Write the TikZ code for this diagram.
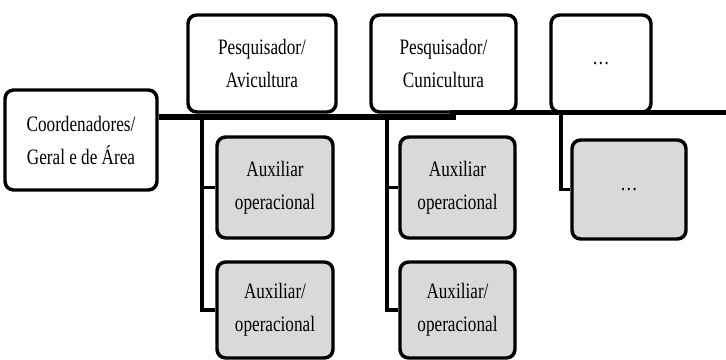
\documentclass[tikz,border=0pt]{standalone}
\usepackage{fontspec}
\setmainfont{Liberation Serif}[FakeStretch=0.78]
\definecolor{auxgray}{RGB}{217,217,217}

\begin{document}
\begin{tikzpicture}[x=0.75pt,y=0.75pt,yscale=-1,xscale=1,
		box/.style={draw,line width=2.6pt,rounded corners=6.5pt,fill=white,align=center,inner sep=0pt,font=\fontsize{16.5}{24.75}\selectfont},
		auxbox/.style={box,fill=auxgray},
		bus/.style={line width=4.4pt},
		link/.style={line width=2.4pt}]
		\useasboundingbox (0,0) rectangle (726,360);
		
		\node[box,minimum width=114pt,minimum height=75pt] (coord) at (81,140) {Coordenadores/\\Geral e de Área};
		\node[box,minimum width=111pt,minimum height=72.75pt] (avic) at (262,63.5) {Pesquisador/\\Avicultura};
		\node[box,minimum width=108.75pt,minimum height=72.75pt] (cunic) at (443.5,63.5) {Pesquisador/\\Cunicultura};
		\node[box,minimum width=75pt,minimum height=72.75pt] (dotsTop) at (601,63.5) {…};
		
		\node[auxbox,minimum width=87pt,minimum height=75.75pt] (avicAux1) at (275,187.5) {Auxiliar\\operacional};
		\node[auxbox,minimum width=87pt,minimum height=72pt] (avicAux2) at (275,310) {Auxiliar/\\operacional};
		\node[auxbox,minimum width=86.25pt,minimum height=75.75pt] (cunicAux1) at (457.5,187.5) {Auxiliar\\operacional};
		\node[auxbox,minimum width=86.25pt,minimum height=72pt] (cunicAux2) at (457.5,310) {Auxiliar/\\operacional};
		\node[auxbox,minimum width=85.5pt,minimum height=74.25pt] (dotsAux) at (629,189.5) {…};
		
		\coordinate (jogA) at (453,117);
		\coordinate (jogB) at (453,112.5);
		\coordinate (busEnd) at (726,112.5);
		\coordinate (avicT) at (202,117);
		\coordinate (cunicT) at (387,117);
		\coordinate (dotsT) at (561,112.5);
		
		\draw[link] (avicT) |- (avicAux1.west);
		\draw[link] (avicT) |- (avicAux2.west);
		\draw[link] (cunicT) |- (cunicAux1.west);
		\draw[link] (cunicT) |- (cunicAux2.west);
		\draw[link] (dotsT) |- (dotsAux.west);
		\draw[bus] (coord.east |- jogA) -- (jogA) -- (jogB) -- (busEnd);
\end{tikzpicture}
\end{document}
